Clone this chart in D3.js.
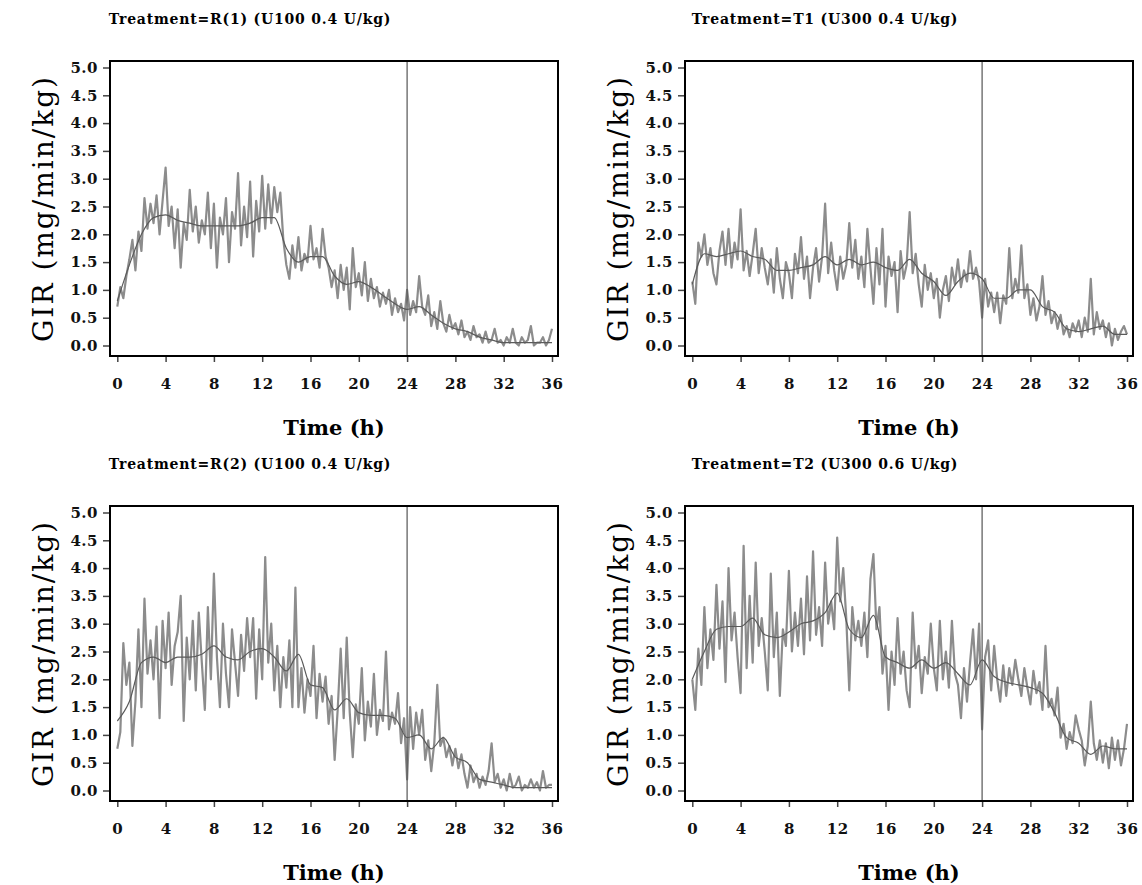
<!DOCTYPE html>
<html>
<head>
<meta charset="utf-8">
<script src="https://cdn.jsdelivr.net/npm/d3@7"></script>
<style>
  body { margin: 0; background: #fff; }
  svg { display: block; }
  .tick text { font-family: "DejaVu Serif", serif; font-weight: bold; font-size: 15px; letter-spacing: 0.5px; fill: #111; }
</style>
</head>
<body>
<svg class="chart" width="1142" height="885"></svg>
<script>
// panel titles, in reading order
const titles = [
  "Treatment=R(1) (U100 0.4 U/kg)",
  "Treatment=T1 (U300 0.4 U/kg)",
  "Treatment=R(2) (U100 0.4 U/kg)",
  "Treatment=T2 (U300 0.6 U/kg)"
];
const xTicks = [0, 4, 8, 12, 16, 20, 24, 28, 32, 36];
const yTicks = [0, 0.5, 1, 1.5, 2, 2.5, 3, 3.5, 4, 4.5, 5];
const refLine = 24;

// sampling grid (h): raw every 15 min, smooth every hour
const rawTimes = d3.range(0, 36.001, 0.25);
const smoothTimes = d3.range(0, 36.001, 1);

// GIR (mg/min/kg)
const girR1 = [
  0.70,1.05,0.85,1.25, 1.55,1.90,1.35,2.05, 1.70,2.65,2.10,2.55, 2.20,2.70,2.00,2.60,
  3.20,2.15,2.50,1.75, 2.45,1.40,2.20,1.90, 2.80,2.05,2.50,1.85, 2.25,2.00,2.75,1.75,
  2.55,1.40,2.30,2.00, 2.65,1.50,2.40,2.10, 3.10,1.80,2.50,1.95, 2.95,1.60,2.60,2.05,
  3.05,2.10,2.90,2.20, 2.85,2.40,2.75,1.90, 1.45,1.20,1.80,1.40, 1.95,1.35,1.65,1.50,
  2.15,1.55,1.75,1.40, 2.10,1.60,1.40,1.05, 1.35,0.85,1.45,1.00, 1.40,0.65,1.75,1.05,
  1.30,0.90,1.50,0.80, 1.20,0.85,1.05,0.70, 0.95,0.75,1.00,0.55, 0.85,0.60,0.75,0.45,
  1.00,0.55,0.80,0.60, 1.25,0.70,0.55,0.90, 0.35,0.60,0.30,0.80, 0.40,0.25,0.55,0.30,
  0.40,0.20,0.45,0.15, 0.25,0.10,0.35,0.15, 0.20,0.05,0.25,0.05, 0.10,0.30,0.05,0.10,
  0.00,0.15,0.05,0.30, 0.05,0.00,0.15,0.05, 0.10,0.35,0.00,0.05, 0.05,0.15,0.00,0.10,
  0.30
];
const girT1 = [
  1.15,0.75,1.85,1.60, 2.00,1.45,1.75,1.30, 1.10,1.70,2.05,1.45, 2.10,1.40,1.85,1.55,
  2.45,1.35,1.70,1.25, 1.65,2.10,1.30,1.75, 1.40,1.10,1.55,0.95, 1.75,1.20,0.85,1.50,
  1.30,0.85,1.65,1.30, 1.95,1.20,1.60,0.85, 1.40,1.75,1.15,1.60, 2.55,1.30,1.85,1.35,
  1.00,1.60,1.20,1.45, 2.20,1.40,1.90,1.20, 1.60,1.05,2.10,1.40, 0.75,1.75,1.10,2.10,
  0.70,1.60,1.25,1.50, 0.60,1.70,1.20,1.45, 2.40,1.30,1.65,1.10, 0.70,1.45,1.00,1.30,
  0.85,1.20,0.50,1.00, 1.25,0.80,1.40,1.10, 1.55,1.05,1.35,1.15, 1.70,1.20,1.40,1.15,
  0.50,1.20,0.70,0.95, 0.60,0.95,0.40,0.90, 0.75,1.75,0.85,1.20, 0.95,1.80,0.85,1.10,
  0.55,0.85,0.45,0.70, 1.25,0.55,0.80,0.40, 0.60,0.30,0.55,0.20, 0.35,0.15,0.40,0.25,
  0.45,0.15,0.50,0.25, 1.20,0.20,0.60,0.30, 0.45,0.15,0.40,0.00, 0.30,0.10,0.25,0.35,
  0.20
];
const girR2 = [
  0.75,1.05,2.65,1.90, 2.30,0.80,1.60,2.90, 1.50,3.45,2.10,2.70, 2.00,2.95,1.30,3.05,
  2.20,3.20,1.90,2.60, 2.85,3.50,1.25,2.75, 2.00,3.05,1.80,3.20, 2.30,1.45,3.30,2.00,
  3.90,2.40,1.50,3.00, 2.10,1.50,2.90,2.30, 1.70,2.80,2.15,3.10, 2.40,3.10,1.65,2.90,
  2.00,4.20,2.30,3.00, 1.80,2.60,1.50,2.40, 1.85,2.70,1.50,3.65, 1.50,2.20,1.40,2.00,
  1.70,2.60,1.30,2.10, 1.60,2.05,1.20,1.70, 0.55,1.45,2.55,1.30, 2.75,1.40,0.60,1.55,
  1.20,2.20,0.90,1.60, 1.15,2.10,1.00,1.45, 1.25,2.50,1.10,1.40, 1.20,1.75,0.85,1.30,
  0.20,1.50,0.75,1.40, 1.00,1.45,0.55,0.90, 0.35,0.85,1.90,0.80, 0.95,0.60,0.80,0.45,
  0.75,0.40,0.65,0.30, 0.05,0.45,0.15,0.30, 0.05,0.25,0.10,0.35, 0.85,0.15,0.30,0.05,
  0.20,0.00,0.30,0.05, 0.10,0.25,0.00,0.10, 0.05,0.20,0.05,0.15, 0.00,0.35,0.05,0.10,
  0.10
];
const girT2 = [
  2.00,1.45,2.55,1.90, 3.30,2.20,2.90,2.35, 3.70,2.55,3.40,1.95, 4.00,2.70,3.20,2.40,
  1.75,4.40,2.20,3.50, 2.30,4.10,2.60,3.10, 2.50,1.80,3.90,2.40, 3.20,1.70,2.90,2.60,
  3.95,2.50,3.20,2.60, 3.45,2.45,3.85,2.70, 4.30,2.80,3.30,2.60, 4.10,3.00,3.40,2.90,
  4.55,3.40,4.00,3.10, 1.80,3.30,2.70,3.05, 2.60,3.20,2.40,3.80, 4.25,2.90,3.30,2.10,
  2.60,1.45,2.50,1.90, 3.10,2.10,2.50,1.80, 1.50,3.20,2.20,2.60, 1.75,2.40,2.10,3.00,
  2.20,1.80,3.05,2.00, 2.50,1.85,3.05,2.10, 1.90,1.30,2.20,1.60, 2.30,2.90,2.00,3.00,
  1.10,2.40,2.70,1.80, 2.60,2.00,1.60,2.25, 1.70,2.20,1.90,2.35, 2.00,1.70,2.20,1.85,
  1.55,2.15,1.75,1.95, 1.45,2.60,1.50,1.65, 1.35,1.85,0.95,1.20, 0.75,1.05,0.85,1.35,
  1.10,0.90,0.45,0.80, 1.60,0.85,0.55,0.90, 0.50,0.85,0.40,0.95, 0.55,0.90,0.45,0.75,
  1.20
];

// smoothed mean curve, hourly
const smoothR1 = [0.80,1.45,2.00,2.30,2.35,2.25,2.20,2.15,2.15,2.15,2.15,2.20,2.30,2.30,1.75,1.50,1.60,1.60,1.25,
  1.10,1.15,1.05,0.90,0.75,0.65,0.70,0.55,0.40,0.30,0.25,0.15,0.10,0.05,0.05,0.05,0.05,0.05];
const smoothT1 = [1.10,1.65,1.60,1.65,1.70,1.60,1.55,1.35,1.35,1.40,1.45,1.60,1.45,1.55,1.45,1.50,1.40,1.35,1.55,
  1.30,1.15,0.90,1.15,1.30,1.20,0.85,0.85,1.00,1.00,0.70,0.60,0.30,0.25,0.30,0.35,0.20,0.20];
const smoothR2 = [1.25,1.60,2.30,2.40,2.30,2.40,2.40,2.45,2.60,2.40,2.35,2.50,2.55,2.40,2.15,2.45,1.90,1.85,1.45,
  1.65,1.40,1.35,1.35,1.30,0.95,1.00,0.75,0.95,0.60,0.50,0.20,0.15,0.10,0.05,0.05,0.05,0.05];
const smoothT2 = [2.00,2.50,2.90,2.95,2.95,3.10,2.80,2.75,2.85,3.00,3.05,3.20,3.55,2.90,2.75,3.15,2.40,2.30,2.20,
  2.35,2.20,2.30,2.10,1.90,2.35,2.05,1.95,1.90,1.85,1.75,1.40,0.95,0.85,0.65,0.80,0.75,0.75];

const panels = [
  {title: titles[0], raw: girR1, smooth: smoothR1, col: 0, row: 0},
  {title: titles[1], raw: girT1, smooth: smoothT1, col: 1, row: 0},
  {title: titles[2], raw: girR2, smooth: smoothR2, col: 0, row: 1},
  {title: titles[3], raw: girT2, smooth: smoothT2, col: 1, row: 1}
];

const colStep = 575, rowStep = 445;
const frame = {left: 110, right: 558, top: 61, bottom: 356};

const svg = d3.select(".chart");

const x = d3.scaleLinear().domain([0, 36]).range([117.3, 552]);
const y = d3.scaleLinear().domain([0, 5]).range([345.5, 67.5]);

panels.forEach(p => {
  const g = svg.append("g")
    .attr("transform", `translate(${p.col * colStep}, ${p.row * rowStep})`);

  g.append("text")
    .attr("x", 250)
    .attr("y", 24)
    .attr("text-anchor", "middle")
    .style("font-family", "DejaVu Serif, serif")
    .style("font-weight", "bold")
    .style("font-size", "14px")
    .style("letter-spacing", "0.8px")
    .text(p.title);

  // x axis
  const xa = g.append("g")
    .attr("transform", `translate(0,${frame.bottom})`)
    .call(d3.axisBottom(x).tickValues(xTicks).tickSize(6).tickPadding(16));
  xa.select(".domain").remove();
  xa.selectAll(".tick line").attr("stroke", "#444").attr("stroke-width", 1.5);

  // y axis
  const ya = g.append("g")
    .attr("transform", `translate(${frame.left},0)`)
    .call(d3.axisLeft(y).tickValues(yTicks).tickSize(7).tickPadding(5).tickFormat(d3.format(".1f")));
  ya.select(".domain").remove();
  ya.selectAll(".tick line").attr("stroke", "#444").attr("stroke-width", 1.5);

  // raw GIR
  const rawLine = d3.line()
    .x((d, i) => x(rawTimes[i]))
    .y(d => y(d));
  g.append("path")
    .datum(p.raw)
    .attr("d", rawLine)
    .style("fill", "none")
    .style("stroke", "#8c8c8c")
    .style("stroke-width", 2.2)
    .style("stroke-linejoin", "round");

  // smoothed
  const smoothLine = d3.line()
    .curve(d3.curveMonotoneX)
    .x((d, i) => x(smoothTimes[i]))
    .y(d => y(d));
  g.append("path")
    .datum(p.smooth)
    .attr("d", smoothLine)
    .style("fill", "none")
    .style("stroke", "#5a5a5a")
    .style("stroke-width", 1.2);

  // 24 h reference
  g.append("line")
    .attr("x1", x(refLine)).attr("x2", x(refLine))
    .attr("y1", frame.top).attr("y2", frame.bottom)
    .style("stroke", "#555")
    .style("stroke-width", 1.2);

  g.append("rect")
    .attr("x", frame.left).attr("y", frame.top)
    .attr("width", frame.right - frame.left)
    .attr("height", frame.bottom - frame.top)
    .style("fill", "none")
    .style("stroke", "#000")
    .style("stroke-width", 2);

  g.append("text")
    .attr("x", (frame.left + frame.right) / 2)
    .attr("y", 435)
    .attr("text-anchor", "middle")
    .style("font-family", "DejaVu Serif, serif")
    .style("font-weight", "bold")
    .style("font-size", "21px")
    .text("Time (h)");

  g.append("text")
    .attr("transform", `translate(53, ${(frame.top + frame.bottom) / 2}) rotate(-90)`)
    .attr("text-anchor", "middle")
    .style("font-family", "DejaVu Serif, serif")
    .style("font-size", "28px")
    .style("letter-spacing", "2px")
    .text("GIR (mg/min/kg)");
});
</script>
</body>
</html>
